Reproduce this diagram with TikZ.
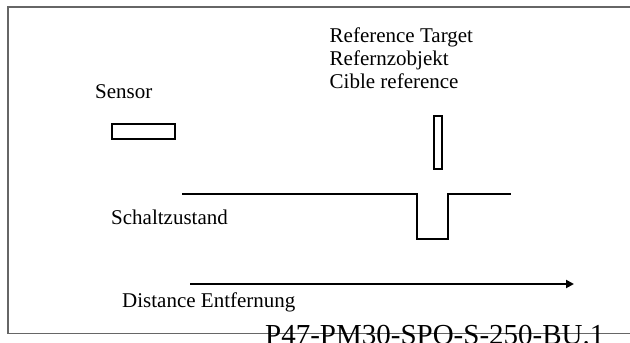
\documentclass[tikz,border=0pt]{standalone}
\usepackage{fontspec}
\setmainfont{Liberation Serif}
\usetikzlibrary{arrows.meta}
\begin{document}
\begin{tikzpicture}[x=1pt,y=-1pt,
  lbl/.style={anchor=base west,inner sep=0pt,font=\fontsize{21}{24}\selectfont},
  part/.style={draw=black,line width=1.5pt,inner sep=0pt,anchor=north west},
  sig/.style={line width=1.5pt},
  frame/.style={draw=black!60,line width=1.2pt}]
\useasboundingbox (0,0) rectangle (630,343);
\draw[frame] (630,7) -- (8,7) -- (8,333.5) -- (630,333.5);
% labels
\node[lbl] (sensorlbl) at (95,98) {Sensor};
\node[lbl] (ref1) at (329.5,42) {Reference Target};
\node[lbl] (ref2) at (329.5,65) {Refernzobjekt};
\node[lbl] (ref3) at (329.5,88) {Cible reference};
\node[lbl] (schalt) at (111,224) {Schaltzustand};
\node[lbl] (dist) at (122,307) {Distance Entfernung};
\node[anchor=base west,inner sep=0pt,font=\fontsize{29}{32}\selectfont] (code) at (265,344) {P47-PM30-SPO-S-250-BU.1};
% parts
\node[part,minimum width=63pt,minimum height=15pt] (sensor) at (111,123) {};
\node[part,minimum width=8pt,minimum height=53pt] (target) at (433,115) {};
% switching signal
\coordinate (s0) at (182,194);
\coordinate (s1) at (417,194);
\coordinate (s2) at (417,239);
\coordinate (s3) at (448,239);
\coordinate (s4) at (448,194);
\coordinate (s5) at (511,194);
\draw[sig] (s0) -- (s1) -- (s2) -- (s3) -- (s4) -- (s5);
% distance arrow
\coordinate (a0) at (190,284);
\coordinate (a1) at (574,284);
\draw[line width=2pt,-{Triangle[length=8pt,width=8pt]}] (a0) -- (a1);
\end{tikzpicture}
\end{document}
